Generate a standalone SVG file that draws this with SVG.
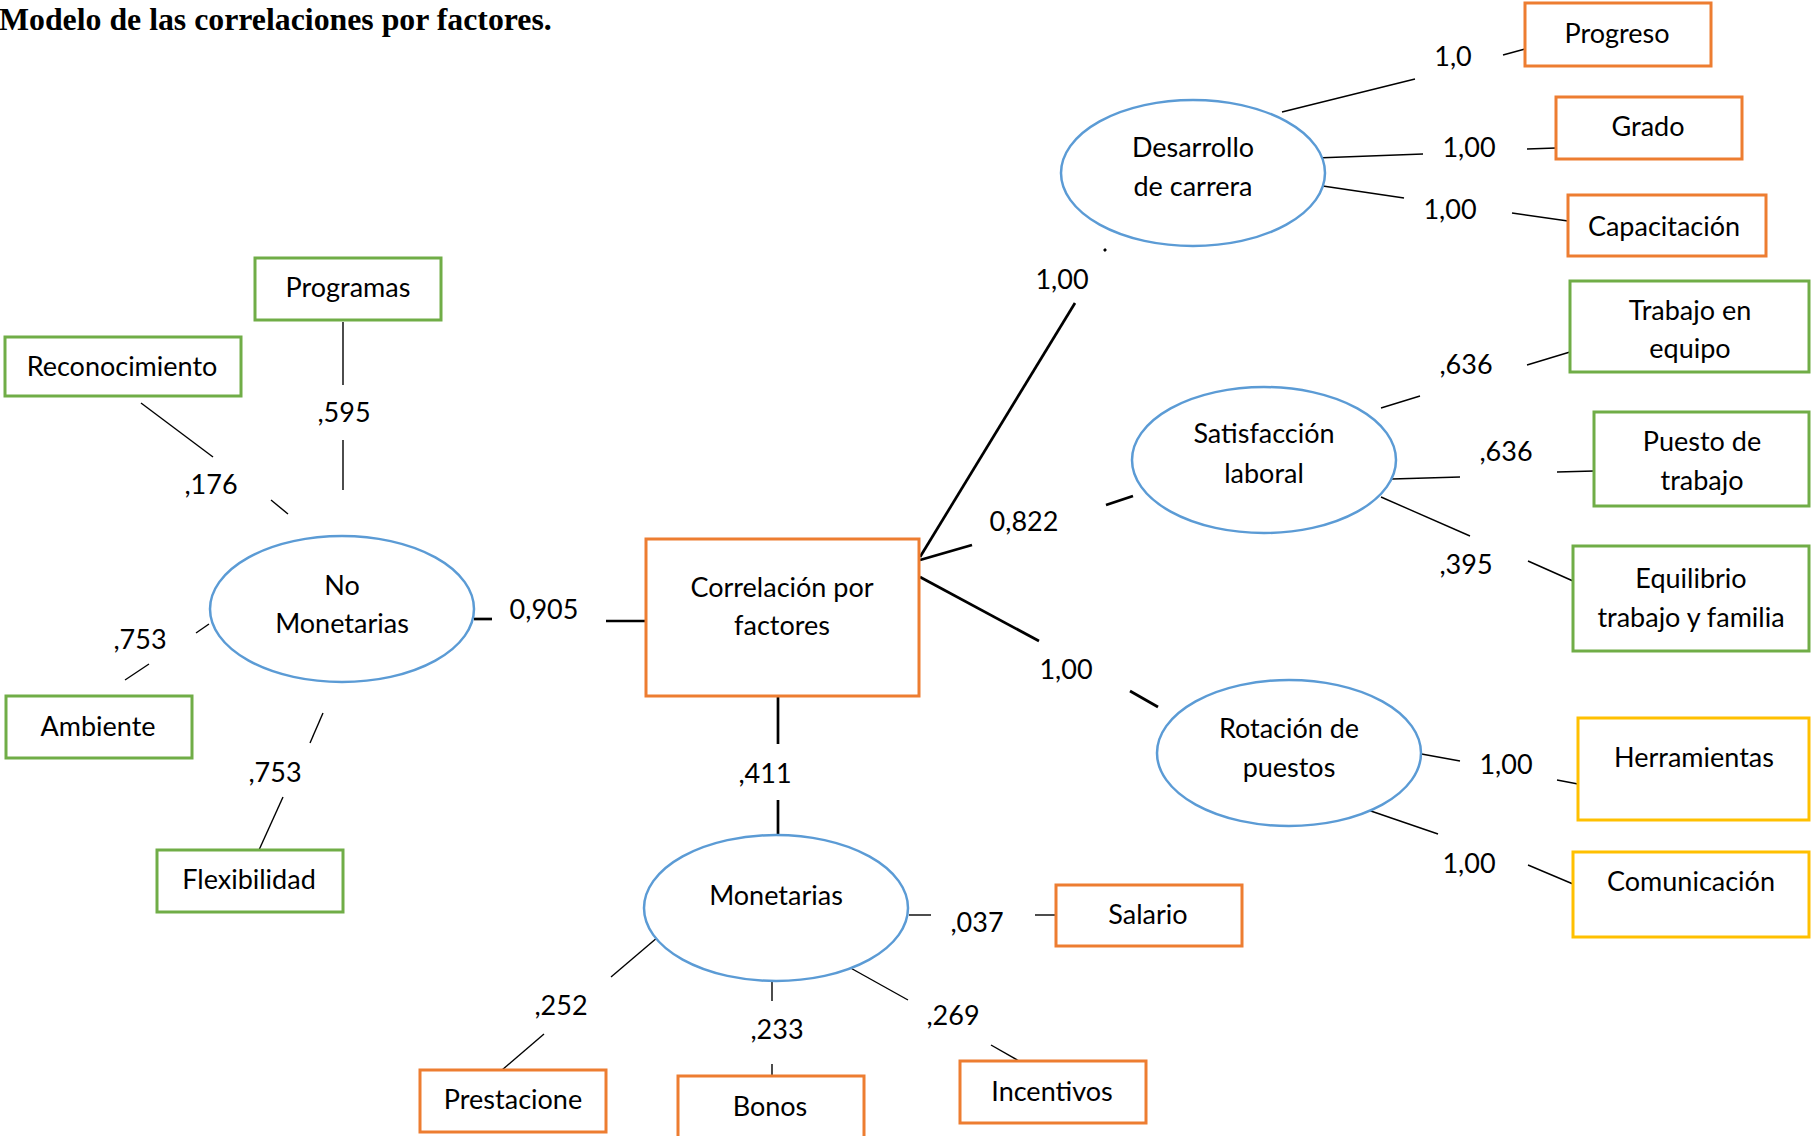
<svg xmlns="http://www.w3.org/2000/svg" width="1811" height="1136" viewBox="0 0 1811 1136">
<style>
.bg{fill:#ffffff}
.title{font-family:"Liberation Serif","Times New Roman",serif;font-weight:bold;font-size:31.8px;fill:#000}
.t{font-family:Lato,"Liberation Sans",sans-serif;font-size:27px;fill:#000;text-anchor:middle}
.bo{fill:#fff;stroke:#ED7D31;stroke-width:3}
.bg2{fill:#fff;stroke:#70AD47;stroke-width:3}
.by{fill:#fff;stroke:#FFC000;stroke-width:3}
.el{fill:#fff;stroke:#5B9BD5;stroke-width:2.5}
.ln{stroke:#000;stroke-width:1.4;fill:none}
.lk{stroke:#000;stroke-width:2.7;fill:none}
</style>
<rect class="bg" x="0" y="0" width="1811" height="1136"/>
<text class="title" x="-1" y="30">Modelo de las correlaciones por factores.</text>

<g id="connectors">
  <!-- central thick links -->
  <line class="lk" x1="474" y1="619" x2="492" y2="619"/>
  <line class="lk" x1="606" y1="621" x2="646" y2="621"/>
  <line class="lk" x1="778" y1="696" x2="778" y2="744"/>
  <line class="lk" x1="778" y1="800" x2="778" y2="835"/>
  <line class="lk" x1="920" y1="557" x2="1075" y2="303"/>
  <line class="lk" x1="1104" y1="251" x2="1106" y2="249"/>
  <line class="lk" x1="920" y1="560" x2="972" y2="545"/>
  <line class="lk" x1="1106" y1="505" x2="1133" y2="496"/>
  <line class="lk" x1="920" y1="577" x2="1039" y2="641"/>
  <line class="lk" x1="1130" y1="691" x2="1158" y2="707"/>
  <!-- No monetarias indicators -->
  <line class="ln" x1="343" y1="322" x2="343" y2="385"/>
  <line class="ln" x1="343" y1="440" x2="343" y2="490"/>
  <line class="ln" x1="141" y1="403" x2="213" y2="457"/>
  <line class="ln" x1="271" y1="500" x2="288" y2="514"/>
  <line class="ln" x1="196" y1="633" x2="209" y2="624"/>
  <line class="ln" x1="125" y1="680" x2="149" y2="664"/>
  <line class="ln" x1="323" y1="713" x2="310" y2="743"/>
  <line class="ln" x1="283" y1="797" x2="259" y2="850"/>
  <!-- Monetarias indicators -->
  <line class="ln" x1="909" y1="915" x2="931" y2="915"/>
  <line class="ln" x1="1035" y1="915" x2="1056" y2="915"/>
  <line class="ln" x1="658" y1="937" x2="611" y2="977"/>
  <line class="ln" x1="544" y1="1034" x2="502" y2="1070"/>
  <line class="ln" x1="772" y1="978" x2="772" y2="1001"/>
  <line class="ln" x1="772" y1="1064" x2="772" y2="1076"/>
  <line class="ln" x1="847" y1="966" x2="908" y2="1000"/>
  <line class="ln" x1="991" y1="1045" x2="1019" y2="1061"/>
  <!-- Desarrollo indicators -->
  <line class="ln" x1="1282" y1="112" x2="1415" y2="79"/>
  <line class="ln" x1="1503" y1="55" x2="1525" y2="49"/>
  <line class="ln" x1="1316" y1="158" x2="1423" y2="154"/>
  <line class="ln" x1="1527" y1="149" x2="1556" y2="148"/>
  <line class="ln" x1="1316" y1="185" x2="1404" y2="198"/>
  <line class="ln" x1="1512" y1="213" x2="1568" y2="221"/>
  <!-- Satisfaccion indicators -->
  <line class="ln" x1="1381" y1="408" x2="1420" y2="396"/>
  <line class="ln" x1="1527" y1="365" x2="1570" y2="352"/>
  <line class="ln" x1="1392" y1="479" x2="1460" y2="477"/>
  <line class="ln" x1="1557" y1="472" x2="1594" y2="471"/>
  <line class="ln" x1="1381" y1="497" x2="1470" y2="536"/>
  <line class="ln" x1="1528" y1="561" x2="1573" y2="581"/>
  <!-- Rotacion indicators -->
  <line class="ln" x1="1416" y1="753" x2="1460" y2="761"/>
  <line class="ln" x1="1557" y1="780" x2="1578" y2="784"/>
  <line class="ln" x1="1365" y1="809" x2="1438" y2="834"/>
  <line class="ln" x1="1528" y1="865" x2="1573" y2="884"/>
  <!-- labels -->
  <text class="t" x="344" y="422">,595</text>
  <text class="t" x="211" y="494">,176</text>
  <text class="t" x="140" y="649">,753</text>
  <text class="t" x="275" y="782">,753</text>
  <text class="t" x="544" y="619">0,905</text>
  <text class="t" x="765" y="783">,411</text>
  <text class="t" x="1062" y="289">1,00</text>
  <text class="t" x="1024" y="531">0,822</text>
  <text class="t" x="1066" y="679">1,00</text>
  <text class="t" x="1453" y="66">1,0</text>
  <text class="t" x="1469" y="157">1,00</text>
  <text class="t" x="1450" y="219">1,00</text>
  <text class="t" x="1466" y="374">,636</text>
  <text class="t" x="1506" y="461">,636</text>
  <text class="t" x="1466" y="574">,395</text>
  <text class="t" x="1506" y="774">1,00</text>
  <text class="t" x="1469" y="873">1,00</text>
  <text class="t" x="977" y="932">,037</text>
  <text class="t" x="561" y="1015">,252</text>
  <text class="t" x="777" y="1039">,233</text>
  <text class="t" x="953" y="1025">,269</text>
</g>

<g id="n_programas"><rect class="bg2" x="255" y="258" width="186" height="62"/><text class="t" x="348" y="297">Programas</text></g>
<g id="n_reconocimiento"><rect class="bg2" x="5" y="337" width="236" height="59"/><text class="t" x="122" y="376">Reconocimiento</text></g>
<g id="n_nomonetarias"><ellipse class="el" cx="342" cy="609" rx="132" ry="73"/><text class="t" x="342" y="595">No</text><text class="t" x="342" y="633">Monetarias</text></g>
<g id="n_ambiente"><rect class="bg2" x="6" y="696" width="186" height="62"/><text class="t" x="98" y="736">Ambiente</text></g>
<g id="n_flexibilidad"><rect class="bg2" x="157" y="850" width="186" height="62"/><text class="t" x="249" y="889">Flexibilidad</text></g>
<g id="n_correlacion"><rect class="bo" x="646" y="539" width="273" height="157"/><text class="t" x="782" y="597">Correlación por</text><text class="t" x="782" y="635">factores</text></g>
<g id="n_monetarias"><ellipse class="el" cx="776" cy="908" rx="132" ry="73"/><text class="t" x="776" y="905">Monetarias</text></g>
<g id="n_salario"><rect class="bo" x="1056" y="885" width="186" height="61"/><text class="t" x="1148" y="924">Salario</text></g>
<g id="n_prestacione"><rect class="bo" x="420" y="1070" width="186" height="62"/><text class="t" x="513" y="1109">Prestacione</text></g>
<g id="n_bonos"><rect class="bo" x="678" y="1076" width="186" height="70"/><text class="t" x="770" y="1116">Bonos</text></g>
<g id="n_incentivos"><rect class="bo" x="960" y="1061" width="186" height="62"/><text class="t" x="1052" y="1101">Incentivos</text></g>
<g id="n_desarrollo"><ellipse class="el" cx="1193" cy="173" rx="132" ry="73"/><text class="t" x="1193" y="157">Desarrollo</text><text class="t" x="1193" y="196">de carrera</text></g>
<g id="n_progreso"><rect class="bo" x="1525" y="3" width="186" height="63"/><text class="t" x="1617" y="43">Progreso</text></g>
<g id="n_grado"><rect class="bo" x="1556" y="97" width="186" height="62"/><text class="t" x="1648" y="136">Grado</text></g>
<g id="n_capacitacion"><rect class="bo" x="1568" y="195" width="198" height="61"/><text class="t" x="1664" y="236">Capacitación</text></g>
<g id="n_satisfaccion"><ellipse class="el" cx="1264" cy="460" rx="132" ry="73"/><text class="t" x="1264" y="443">Satisfacción</text><text class="t" x="1264" y="483">laboral</text></g>
<g id="n_trabajo_equipo"><rect class="bg2" x="1570" y="281" width="239" height="91"/><text class="t" x="1690" y="320">Trabajo en</text><text class="t" x="1690" y="358">equipo</text></g>
<g id="n_puesto"><rect class="bg2" x="1594" y="412" width="215" height="94"/><text class="t" x="1702" y="451">Puesto de</text><text class="t" x="1702" y="490">trabajo</text></g>
<g id="n_equilibrio"><rect class="bg2" x="1573" y="546" width="236" height="105"/><text class="t" x="1691" y="588">Equilibrio</text><text class="t" x="1691" y="627">trabajo y familia</text></g>
<g id="n_rotacion"><ellipse class="el" cx="1289" cy="753" rx="132" ry="73"/><text class="t" x="1289" y="738">Rotación de</text><text class="t" x="1289" y="777">puestos</text></g>
<g id="n_herramientas"><rect class="by" x="1578" y="718" width="231" height="102"/><text class="t" x="1694" y="767">Herramientas</text></g>
<g id="n_comunicacion"><rect class="by" x="1573" y="852" width="236" height="85"/><text class="t" x="1691" y="891">Comunicación</text></g>
</svg>
